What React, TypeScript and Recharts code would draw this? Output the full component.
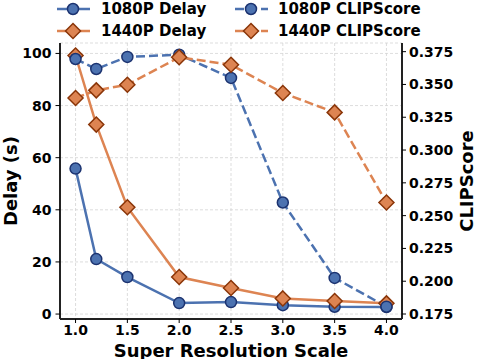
import React from 'react';
import { ComposedChart, Line, XAxis, YAxis, CartesianGrid, Label } from 'recharts';

const scales = [1.0, 1.2, 1.5, 2.0, 2.5, 3.0, 3.5, 4.0];
const delay1080 = [55.8, 21.1, 14.2, 4.2, 4.6, 3.4, 2.8, 2.7];
const delay1440 = [99.2, 72.7, 41.0, 14.2, 10.0, 6.0, 5.0, 4.1];
const clip1080 = [0.3694, 0.3618, 0.371, 0.3727, 0.355, 0.26, 0.2025, 0.1806];
const clip1440 = [0.3397, 0.3455, 0.3498, 0.3707, 0.365, 0.3435, 0.3287, 0.26];

const xTicks = [1.0, 1.5, 2.0, 2.5, 3.0, 3.5, 4.0];
const delayTicks = [0, 20, 40, 60, 80, 100];
const clipTicks = [0.175, 0.2, 0.225, 0.25, 0.275, 0.3, 0.325, 0.35, 0.375];

const BLUE = '#4c72b0';
const BLUE_EDGE = '#1c3370';
const ORANGE = '#dd8452';
const ORANGE_EDGE = '#8a3508';
const FONT = '"DejaVu Sans", sans-serif';

const chartData = scales.map((s, i) => ({
  scale: s,
  d1080: delay1080[i],
  d1440: delay1440[i],
  c1080: clip1080[i],
  c1440: clip1440[i],
}));

const series = [
  { key: 'd1080', name: '1080P Delay', color: BLUE, edge: BLUE_EDGE, shape: 'circle', dashed: false, axis: 'left' },
  { key: 'd1440', name: '1440P Delay', color: ORANGE, edge: ORANGE_EDGE, shape: 'diamond', dashed: false, axis: 'left' },
  { key: 'c1080', name: '1080P CLIPScore', color: BLUE, edge: BLUE_EDGE, shape: 'circle', dashed: true, axis: 'right' },
  { key: 'c1440', name: '1440P CLIPScore', color: ORANGE, edge: ORANGE_EDGE, shape: 'diamond', dashed: true, axis: 'right' },
];

const Marker = ({ cx, cy, shape, color, edge }: any) => {
  if (cx == null || cy == null) return null;
  if (shape === 'circle') {
    return <circle cx={cx} cy={cy} r={5.5} fill={color} stroke={edge} strokeWidth={1.5} />;
  }
  const r = 7.5;
  return (
    <polygon
      points={`${cx},${cy - r} ${cx + r},${cy} ${cx},${cy + r} ${cx - r},${cy}`}
      fill={color}
      stroke={edge}
      strokeWidth={1.5}
    />
  );
};

const tickStyle = { fill: '#000', fontSize: 14, fontWeight: 'bold', fontFamily: FONT };

const LegendBox = () => {
  const cols = [
    { iconX: 57, textX: 101 },
    { iconX: 235, textX: 278 },
  ];
  return (
    <>
      {series.map((s, i) => {
        const col = cols[s.dashed ? 1 : 0];
        const row = i % 2;
        const cy = row === 0 ? 9 : 31;
        return (
          <div key={s.key}>
            <svg
              width={36}
              height={20}
              style={{ position: 'absolute', left: col.iconX, top: cy - 10 }}
            >
              <line
                x1={0}
                y1={10}
                x2={33}
                y2={10}
                stroke={s.color}
                strokeWidth={2.5}
                strokeDasharray={s.dashed ? '9 4' : undefined}
              />
              <Marker cx={16} cy={10} shape={s.shape} color={s.color} edge={s.edge} />
            </svg>
            <div
              style={{
                position: 'absolute',
                left: col.textX,
                top: cy - 10,
                height: 20,
                lineHeight: '20px',
                fontFamily: FONT,
                fontWeight: 'bold',
                fontSize: 15,
                color: '#000',
                whiteSpace: 'nowrap',
              }}
            >
              {s.name}
            </div>
          </div>
        );
      })}
    </>
  );
};

const axisTitle = (text: string, mode: 'left' | 'right' | 'bottom', off: number) => (props: any) => {
  const vb = props.viewBox || {};
  let x = 0;
  let y = 0;
  let transform: string | undefined;
  if (mode === 'bottom') {
    x = vb.x + vb.width / 2;
    y = vb.y + off;
  } else {
    x = vb.x + off;
    y = vb.y + vb.height / 2;
    transform = `rotate(-90, ${x}, ${y})`;
  }
  return (
    <text
      x={x}
      y={y}
      transform={transform}
      textAnchor="middle"
      dominantBaseline="central"
      fontFamily={FONT}
      fontWeight="bold"
      fontSize={18}
      fill="#000"
    >
      {text}
    </text>
  );
};

export default function App() {
  return (
    <div style={{ position: 'absolute', left: 0, top: 0, width: 478, height: 359, background: '#fff' }}>
      <ComposedChart
        width={478}
        height={359}
        data={chartData}
        margin={{ top: 43, right: 0, bottom: 0, left: 0 }}
      >
        <CartesianGrid
          yAxisId="left"
          stroke="#d4d4d4"
          strokeWidth={0.8}
          strokeDasharray="3 2"
        />
        <XAxis
          dataKey="scale"
          type="number"
          domain={[0.85, 4.15]}
          ticks={xTicks}
          allowDataOverflow
          height={40}
          tickSize={4}
          tickMargin={2}
          tick={tickStyle}
          tickLine={{ stroke: '#000' }}
          axisLine={{ stroke: '#222', strokeWidth: 2 }}
          tickFormatter={(v: number) => v.toFixed(1)}
        >
          <Label content={axisTitle('Super Resolution Scale', 'bottom', 31)} />
        </XAxis>
        <XAxis
          xAxisId="top"
          orientation="top"
          dataKey="scale"
          type="number"
          domain={[0.85, 4.15]}
          allowDataOverflow
          height={0}
          tick={false}
          tickLine={false}
          axisLine={{ stroke: '#222', strokeWidth: 2 }}
        />
        <YAxis
          yAxisId="left"
          type="number"
          domain={[-1.9, 104]}
          ticks={delayTicks}
          allowDataOverflow
          width={60}
          tickSize={4.5}
          tickMargin={4}
          tick={tickStyle}
          tickLine={{ stroke: '#000' }}
          axisLine={{ stroke: '#222', strokeWidth: 2 }}
        >
          <Label content={axisTitle('Delay (s)', 'left', 10)} />
        </YAxis>
        <YAxis
          yAxisId="right"
          orientation="right"
          type="number"
          domain={[0.1712, 0.3816]}
          ticks={clipTicks}
          allowDataOverflow
          width={76}
          tickSize={4}
          tickMargin={3}
          tick={tickStyle}
          tickLine={{ stroke: '#000' }}
          axisLine={{ stroke: '#222', strokeWidth: 2 }}
          tickFormatter={(v: number) => v.toFixed(3)}
        >
          <Label content={axisTitle('CLIPScore', 'right', 64.5)} />
        </YAxis>
        {series.map((s) => (
          <Line
            key={s.key}
            yAxisId={s.axis}
            type="linear"
            dataKey={s.key}
            name={s.name}
            stroke={s.color}
            strokeWidth={2.5}
            strokeDasharray={s.dashed ? '9 4' : undefined}
            dot={(p: any) => (
              <Marker key={`${s.key}-${p.index}`} cx={p.cx} cy={p.cy} shape={s.shape} color={s.color} edge={s.edge} />
            )}
            activeDot={false}
            isAnimationActive={false}
          />
        ))}
      </ComposedChart>
      <LegendBox />
    </div>
  );
}
